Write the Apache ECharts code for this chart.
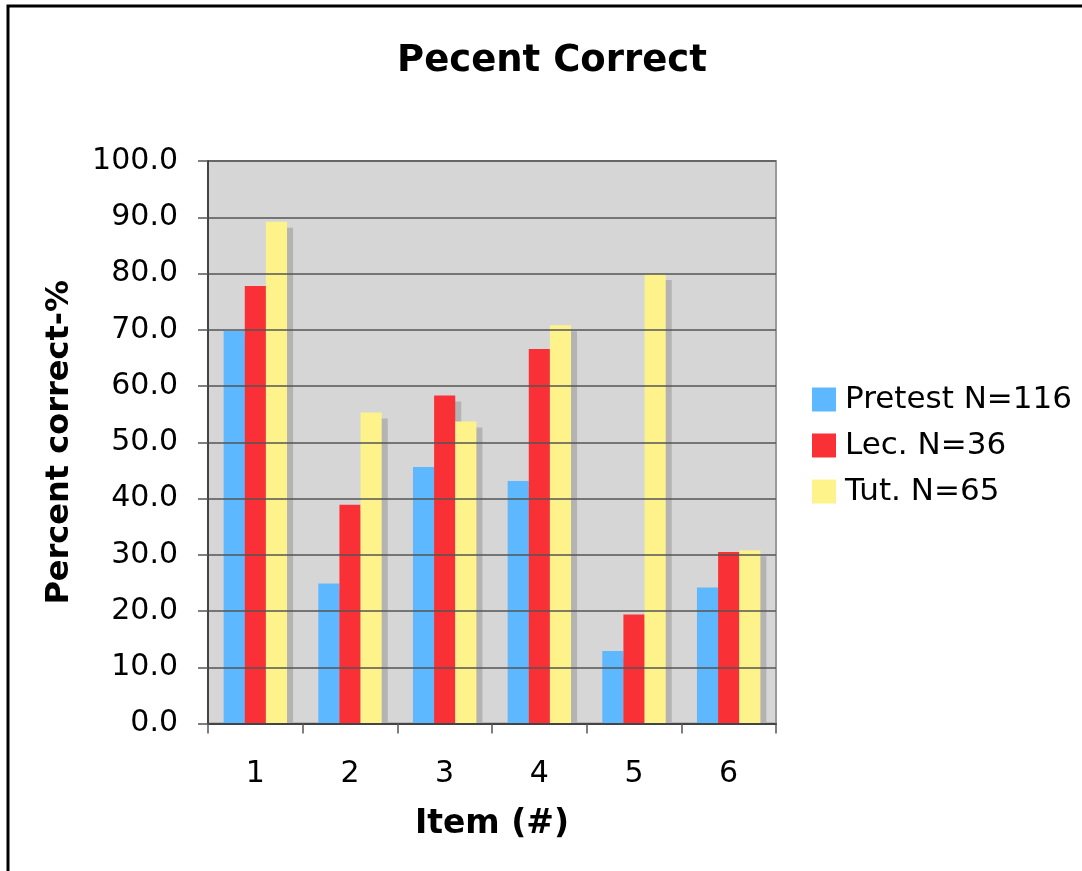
<!DOCTYPE html>
<html>
<head>
<meta charset="utf-8">
<script src="https://cdn.jsdelivr.net/npm/echarts@6/dist/echarts.min.js"></script>
<style>
html,body{margin:0;padding:0;background:#fff;}
#chart{width:1082px;height:871px;}
</style>
</head>
<body>
<div id="chart"></div>
<script>
var categories = ['1', '2', '3', '4', '5', '6'];
var pretest = [69.8, 24.9, 45.6, 43.1, 12.9, 24.2];
var lecture = [77.8, 38.9, 58.3, 66.6, 19.4, 30.5];
var tutorial = [89.2, 55.3, 53.7, 70.8, 79.9, 30.8];
var seriesNames = ['Pretest N=116', 'Lec. N=36', 'Tut. N=65'];
var yTicks = [0, 10, 20, 30, 40, 50, 60, 70, 80, 90, 100];

var FONT = '"DejaVu Sans", Verdana, sans-serif';
var chart = echarts.init(document.getElementById('chart'), null, {renderer: 'canvas'});

var GRID = {left: 208, top: 161, right: 306, bottom: 147.5};

function barSeries(name, data, color) {
  return {
    name: name,
    type: 'bar',
    data: data,
    barGap: '0%',
    barCategoryGap: '33%',
    itemStyle: {
      color: color,
      shadowColor: '#b3b3b3',
      shadowBlur: 0,
      shadowOffsetX: 6,
      shadowOffsetY: 6
    },
    emphasis: {disabled: true},
    animation: false
  };
}

chart.setOption({
  animation: false,
  backgroundColor: '#fff',
  title: {
    text: 'Pecent Correct',
    left: 547,
    top: 38,
    textAlign: 'center',
    textStyle: {fontFamily: FONT, fontWeight: 'bold', fontSize: 37, color: '#000'}
  },
  legend: {
    orient: 'vertical',
    left: 812,
    top: 384,
    padding: 0,
    itemWidth: 24,
    itemHeight: 24,
    itemGap: 15,
    icon: 'rect',
    data: seriesNames,
    textStyle: {fontFamily: FONT, fontSize: 31, color: '#000', padding: [0, 0, 0, 4]}
  },
  grid: {
    left: GRID.left, top: GRID.top, right: GRID.right, bottom: GRID.bottom,
    show: true,
    backgroundColor: '#d6d6d6',
    borderColor: '#9a9a9a',
    borderWidth: 2
  },
  xAxis: {
    type: 'category',
    data: categories,
    z: 20,
    name: 'Item (#)',
    nameLocation: 'middle',
    nameGap: 84,
    nameTextStyle: {fontFamily: FONT, fontWeight: 'bold', fontSize: 33, color: '#000'},
    axisLine: {show: true, lineStyle: {color: '#444', width: 2}},
    axisTick: {show: true, alignWithLabel: false, length: 10, lineStyle: {color: '#555', width: 1.5}},
    axisLabel: {fontFamily: FONT, fontSize: 30, color: '#000', margin: 36},
    splitLine: {show: false}
  },
  yAxis: {
    type: 'value',
    min: yTicks[0],
    max: yTicks[yTicks.length - 1],
    interval: 10,
    z: 20,
    name: 'Percent correct-%',
    nameLocation: 'middle',
    nameGap: 132,
    nameTextStyle: {fontFamily: FONT, fontWeight: 'bold', fontSize: 32, color: '#000'},
    axisLine: {show: true, lineStyle: {color: '#444', width: 2}},
    axisTick: {show: true, length: 10, lineStyle: {color: '#555', width: 1.5}},
    axisLabel: {
      fontFamily: FONT, fontSize: 30, color: '#000', margin: 30,
      formatter: function (v) { return v.toFixed(1); }
    },
    splitLine: {show: true, lineStyle: {color: '#555', width: 1.5}}
  },
  graphic: [
    {
      type: 'rect',
      z: 100,
      silent: true,
      shape: {x: 8, y: 6, width: 1300, height: 1100},
      style: {fill: 'none', stroke: '#000', lineWidth: 3}
    },
    {
      type: 'rect',
      z: 10,
      silent: true,
      shape: {x: GRID.left + 2, y: 871 - GRID.bottom + 1.2, width: 1082 - GRID.left - GRID.right + 20, height: 9},
      style: {fill: '#fff'}
    }
  ],
  series: [
    barSeries(seriesNames[0], pretest, '#5eb8ff'),
    barSeries(seriesNames[1], lecture, '#f93136'),
    barSeries(seriesNames[2], tutorial, '#fef28a')
  ]
});
</script>
</body>
</html>
